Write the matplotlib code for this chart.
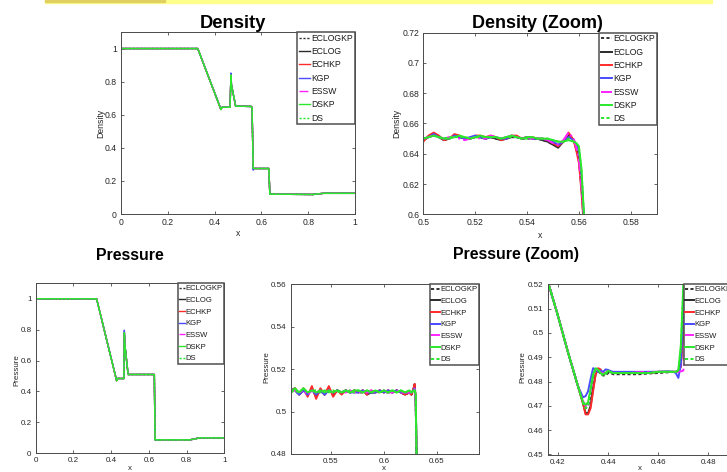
import matplotlib
matplotlib.use('Agg')
import matplotlib.pyplot as plt
from matplotlib.patches import Rectangle
from matplotlib.ticker import FuncFormatter

# ---------------- data ----------------
series = ['ECLOGKP', 'ECLOG', 'ECHKP', 'KGP', 'ESSW', 'DSKP', 'DS']

# full density profile (all schemes overlap)
x_rho_full = [0.0, 0.328, 0.427, 0.432, 0.466, 0.470, 0.472, 0.490, 0.556, 0.560,
              0.565, 0.567, 0.632, 0.636, 0.820, 0.865, 1.0]
rho_full = [1.0, 1.0, 0.632, 0.645, 0.645, 0.840, 0.780, 0.652, 0.650, 0.645,
            0.275, 0.275, 0.275, 0.120, 0.118, 0.125, 0.125]
rho_full_kgp = [1.0, 1.0, 0.635, 0.645, 0.645, 0.852, 0.780, 0.652, 0.650, 0.645,
                0.265, 0.275, 0.275, 0.120, 0.118, 0.125, 0.125]

# full pressure profile
x_p_full = [0.0, 0.323, 0.429, 0.434, 0.468, 0.470, 0.473, 0.490, 0.629, 0.633,
            0.818, 0.870, 1.0]
p_full = [1.0, 1.0, 0.470, 0.484, 0.484, 0.780, 0.700, 0.510, 0.510, 0.087,
          0.087, 0.100, 0.100]
p_full_kgp = [1.0, 1.0, 0.474, 0.484, 0.484, 0.797, 0.700, 0.510, 0.510, 0.087,
              0.087, 0.100, 0.100]

# density zoom
x_dz = [0.500, 0.502, 0.504, 0.506, 0.508, 0.510, 0.512, 0.514, 0.516, 0.518,
        0.520, 0.522, 0.524, 0.526, 0.528, 0.530, 0.532, 0.534, 0.536, 0.538,
        0.540, 0.542, 0.544, 0.546, 0.548, 0.550, 0.552, 0.554, 0.556, 0.558,
        0.559, 0.560, 0.561, 0.562]
dz_ECLOGKP = [0.649, 0.651, 0.652, 0.651, 0.649, 0.650, 0.652, 0.651, 0.650, 0.650,
              0.651, 0.651, 0.650, 0.651, 0.650, 0.650, 0.650, 0.651, 0.651, 0.650,
              0.650, 0.650, 0.650, 0.649, 0.648, 0.646, 0.645, 0.648, 0.652, 0.649,
              0.644, 0.637, 0.620, 0.595]
dz_ECLOG = [0.649, 0.651, 0.653, 0.651, 0.649, 0.650, 0.652, 0.651, 0.650, 0.650,
            0.651, 0.651, 0.650, 0.651, 0.650, 0.649, 0.650, 0.651, 0.651, 0.650,
            0.651, 0.650, 0.650, 0.649, 0.648, 0.646, 0.644, 0.648, 0.653, 0.649,
            0.643, 0.636, 0.617, 0.592]
dz_ECHKP = [0.648, 0.652, 0.654, 0.652, 0.649, 0.650, 0.653, 0.652, 0.650, 0.650,
            0.652, 0.652, 0.651, 0.652, 0.651, 0.649, 0.650, 0.652, 0.652, 0.650,
            0.651, 0.651, 0.650, 0.650, 0.649, 0.647, 0.645, 0.648, 0.654, 0.649,
            0.642, 0.634, 0.615, 0.590]
dz_KGP = [0.650, 0.651, 0.653, 0.651, 0.650, 0.650, 0.652, 0.651, 0.650, 0.651,
          0.652, 0.651, 0.650, 0.651, 0.651, 0.650, 0.650, 0.652, 0.651, 0.650,
          0.651, 0.650, 0.650, 0.650, 0.649, 0.648, 0.646, 0.648, 0.651, 0.649,
          0.646, 0.642, 0.625, 0.596]
dz_ESSW = [0.650, 0.651, 0.652, 0.651, 0.650, 0.651, 0.651, 0.650, 0.649, 0.650,
           0.651, 0.650, 0.650, 0.652, 0.651, 0.650, 0.651, 0.652, 0.651, 0.650,
           0.651, 0.650, 0.650, 0.650, 0.649, 0.647, 0.646, 0.649, 0.654, 0.650,
           0.644, 0.636, 0.618, 0.596]
dz_DSKP = [0.650, 0.651, 0.652, 0.651, 0.650, 0.650, 0.651, 0.652, 0.651, 0.650,
           0.651, 0.652, 0.651, 0.651, 0.651, 0.650, 0.651, 0.652, 0.651, 0.650,
           0.651, 0.651, 0.650, 0.650, 0.650, 0.649, 0.648, 0.648, 0.649, 0.648,
           0.647, 0.645, 0.630, 0.598]
dz_DS = [0.650, 0.651, 0.652, 0.651, 0.650, 0.651, 0.651, 0.651, 0.651, 0.650,
         0.651, 0.651, 0.651, 0.651, 0.651, 0.650, 0.651, 0.651, 0.651, 0.650,
         0.650, 0.651, 0.650, 0.650, 0.650, 0.649, 0.648, 0.648, 0.650, 0.648,
         0.647, 0.644, 0.628, 0.598]

# pressure zoom (plateau)
x_pz = [0.512, 0.516, 0.520, 0.524, 0.528, 0.532, 0.536, 0.540, 0.544, 0.548,
        0.552, 0.556, 0.560, 0.564, 0.568, 0.572, 0.576, 0.580, 0.584, 0.588,
        0.592, 0.596, 0.600, 0.604, 0.608, 0.612, 0.616, 0.620, 0.624,
        0.626, 0.628, 0.629, 0.630, 0.631]
pz_ECLOGKP = [0.510, 0.510, 0.508, 0.510, 0.508, 0.511, 0.508, 0.510, 0.508, 0.510,
              0.508, 0.510, 0.509, 0.510, 0.509, 0.510, 0.509, 0.509, 0.509, 0.509,
              0.509, 0.510, 0.509, 0.509, 0.509, 0.510, 0.509, 0.508, 0.509,
              0.508, 0.510, 0.512, 0.505, 0.470]
pz_ECLOG = [0.510, 0.511, 0.508, 0.510, 0.508, 0.511, 0.507, 0.510, 0.508, 0.511,
            0.508, 0.510, 0.509, 0.510, 0.509, 0.510, 0.509, 0.510, 0.508, 0.509,
            0.509, 0.510, 0.509, 0.510, 0.509, 0.510, 0.509, 0.508, 0.509,
            0.508, 0.511, 0.513, 0.505, 0.470]
pz_ECHKP = [0.509, 0.511, 0.508, 0.511, 0.507, 0.512, 0.506, 0.511, 0.508, 0.512,
            0.507, 0.510, 0.508, 0.510, 0.509, 0.510, 0.509, 0.510, 0.508, 0.510,
            0.509, 0.510, 0.509, 0.510, 0.509, 0.510, 0.509, 0.508, 0.509,
            0.508, 0.511, 0.513, 0.505, 0.470]
pz_KGP = [0.510, 0.510, 0.508, 0.510, 0.508, 0.510, 0.508, 0.510, 0.508, 0.510,
          0.509, 0.510, 0.509, 0.510, 0.509, 0.509, 0.509, 0.510, 0.509, 0.509,
          0.509, 0.510, 0.509, 0.510, 0.509, 0.510, 0.509, 0.509, 0.509,
          0.509, 0.510, 0.511, 0.505, 0.470]
pz_ESSW = [0.510, 0.510, 0.509, 0.510, 0.508, 0.510, 0.509, 0.510, 0.509, 0.510,
           0.509, 0.510, 0.509, 0.509, 0.510, 0.509, 0.509, 0.510, 0.509, 0.510,
           0.509, 0.509, 0.510, 0.509, 0.509, 0.510, 0.509, 0.509, 0.509,
           0.509, 0.510, 0.511, 0.505, 0.470]
pz_DSKP = [0.509, 0.511, 0.509, 0.511, 0.509, 0.510, 0.509, 0.510, 0.509, 0.510,
           0.509, 0.510, 0.509, 0.510, 0.509, 0.510, 0.510, 0.509, 0.510, 0.509,
           0.510, 0.509, 0.510, 0.509, 0.510, 0.509, 0.510, 0.509, 0.510,
           0.509, 0.510, 0.510, 0.508, 0.470]
pz_DS = [0.509, 0.510, 0.509, 0.511, 0.509, 0.510, 0.510, 0.509, 0.510, 0.509,
         0.510, 0.509, 0.510, 0.509, 0.510, 0.509, 0.510, 0.509, 0.510, 0.509,
         0.510, 0.509, 0.510, 0.509, 0.510, 0.509, 0.510, 0.509, 0.510,
         0.509, 0.510, 0.510, 0.507, 0.470]

# pressure zoom (rarefaction tail / contact)
x_pr = [0.416, 0.420, 0.424, 0.428, 0.430, 0.431, 0.432, 0.433, 0.434, 0.435,
        0.436, 0.437, 0.438, 0.439, 0.440, 0.441, 0.442, 0.444, 0.448, 0.452,
        0.456, 0.460, 0.464, 0.466, 0.467, 0.468, 0.469, 0.470, 0.471, 0.472]
pr_ECLOGKP = [0.521, 0.507, 0.492, 0.478, 0.4715, 0.469, 0.470, 0.474, 0.480, 0.4845,
              0.4845, 0.483, 0.4825, 0.4825, 0.4835, 0.4835, 0.483, 0.483, 0.483, 0.483,
              0.4833, 0.4835, 0.4838, 0.484, 0.484, 0.4845, 0.490, 0.510, 0.525, 0.540]
pr_ECLOG = [0.521, 0.507, 0.492, 0.478, 0.471, 0.467, 0.467, 0.470, 0.477, 0.483,
            0.485, 0.4845, 0.483, 0.4835, 0.484, 0.484, 0.4835, 0.4835, 0.4835, 0.4835,
            0.4835, 0.484, 0.484, 0.484, 0.484, 0.484, 0.487, 0.505, 0.525, 0.540]
pr_ECHKP = [0.521, 0.507, 0.492, 0.478, 0.471, 0.4665, 0.4665, 0.469, 0.476, 0.483,
            0.4855, 0.485, 0.483, 0.4835, 0.4845, 0.484, 0.4835, 0.4835, 0.4835, 0.4835,
            0.4835, 0.484, 0.484, 0.484, 0.484, 0.4842, 0.486, 0.500, 0.525, 0.540]
pr_KGP = [0.521, 0.507, 0.492, 0.478, 0.4735, 0.474, 0.476, 0.481, 0.4855, 0.485,
          0.484, 0.4845, 0.484, 0.485, 0.4848, 0.4843, 0.484, 0.484, 0.484, 0.484,
          0.484, 0.484, 0.4842, 0.484, 0.4835, 0.4815, 0.487, 0.510, 0.525, 0.540]
pr_ESSW = [0.521, 0.507, 0.492, 0.478, 0.472, 0.470, 0.471, 0.476, 0.482, 0.485,
           0.4848, 0.4838, 0.4835, 0.484, 0.4842, 0.4838, 0.4835, 0.4835, 0.4835, 0.4838,
           0.484, 0.484, 0.484, 0.484, 0.484, 0.484, 0.4842, 0.4845, 0.500, 0.530]
pr_DSKP = [0.521, 0.507, 0.492, 0.478, 0.4715, 0.4705, 0.4715, 0.477, 0.483, 0.4855,
           0.4848, 0.4835, 0.483, 0.4835, 0.4845, 0.4838, 0.4835, 0.4835, 0.4835, 0.4835,
           0.4835, 0.484, 0.484, 0.484, 0.484, 0.4845, 0.495, 0.520, 0.530, 0.540]
pr_DS = [0.521, 0.507, 0.492, 0.478, 0.471, 0.469, 0.4705, 0.476, 0.482, 0.485,
         0.4848, 0.4835, 0.4825, 0.483, 0.4842, 0.4838, 0.4835, 0.4835, 0.4835, 0.4835,
         0.4835, 0.484, 0.484, 0.484, 0.484, 0.4845, 0.493, 0.518, 0.530, 0.540]

dz_data = [dz_ECLOGKP, dz_ECLOG, dz_ECHKP, dz_KGP, dz_ESSW, dz_DSKP, dz_DS]
pz_data = [pz_ECLOGKP, pz_ECLOG, pz_ECHKP, pz_KGP, pz_ESSW, pz_DSKP, pz_DS]
pr_data = [pr_ECLOGKP, pr_ECLOG, pr_ECHKP, pr_KGP, pr_ESSW, pr_DSKP, pr_DS]

# tick values
ticks_full = [0, 0.2, 0.4, 0.6, 0.8, 1]
xticks_dz = [0.5, 0.52, 0.54, 0.56, 0.58]
yticks_dz = [0.6, 0.62, 0.64, 0.66, 0.68, 0.7, 0.72]
xticks_pz = [0.55, 0.6, 0.65]
yticks_pz = [0.48, 0.5, 0.52, 0.54, 0.56]
xticks_pr = [0.42, 0.44, 0.46, 0.48]
yticks_pr = [0.45, 0.46, 0.47, 0.48, 0.49, 0.5, 0.51, 0.52]

# ---------------- styling ----------------
styles = {
    'ECLOGKP': dict(color='#333333', ls=(0, (1.6, 1.2))),
    'ECLOG':   dict(color='#2a2a2a', ls='-'),
    'ECHKP':   dict(color='#ff2a2a', ls='-'),
    'KGP':     dict(color='#4a4aff', ls='-'),
    'ESSW':    dict(color='#ff22ff', ls='-.'),
    'DSKP':    dict(color='#2ae82a', ls='-'),
    'DS':      dict(color='#2ae82a', ls=(0, (1.6, 1.2))),
}

W, H = 727, 472
fig = plt.figure(figsize=(W / 100, H / 100), dpi=100)
fig.patch.set_facecolor('white')

TXT = '#262626'
SANS = ['Liberation Sans', 'DejaVu Sans']
fmt = FuncFormatter(lambda v, p: f'{v:g}')


def add_ax(l, t, r, b):
    return fig.add_axes([l / W, 1 - b / H, (r - l) / W, (b - t) / H])


def style_ax(ax, box, xlim, ylim, xt, yt, ylab, ylab_px, xlab_px, fs, lfs,
             hlen, lspace):
    l, t, r, b = box
    ax.set_xlim(*xlim)
    ax.set_ylim(*ylim)
    ax.set_xticks(xt)
    ax.set_yticks(yt)
    ax.xaxis.set_major_formatter(fmt)
    ax.yaxis.set_major_formatter(fmt)
    ax.tick_params(direction='in', length=2.5, width=0.5, top=True, right=True,
                   labelsize=fs, colors=TXT, pad=3)
    for lab in ax.get_xticklabels() + ax.get_yticklabels():
        lab.set_family(SANS)
    for s in ax.spines.values():
        s.set_color('#4a4a4a')
        s.set_linewidth(0.7)
    ax.set_ylabel(ylab, fontsize=fs, color=TXT, family=SANS, va='center')
    ax.yaxis.set_label_coords((ylab_px[0] - l) / (r - l), (b - ylab_px[1]) / (b - t))
    ax.set_xlabel('x', fontsize=fs, color=TXT, family=SANS, va='center')
    ax.xaxis.set_label_coords((xlab_px[0] - l) / (r - l), (b - xlab_px[1]) / (b - t))
    leg = ax.legend(loc='upper right', borderaxespad=0, frameon=True,
                    fancybox=False, edgecolor='#505050', framealpha=1,
                    handlelength=hlen, handletextpad=0.15, borderpad=0.2,
                    labelspacing=lspace, prop={'family': SANS, 'size': lfs})
    leg.get_frame().set_linewidth(1.1)
    for tx in leg.get_texts():
        tx.set_color('#1a1a1a')


# ---- Density (full)
boxA = (121, 32, 355, 214)
axA = add_ax(*boxA)
for name in series:
    y = rho_full_kgp if name == 'KGP' else rho_full
    axA.plot(x_rho_full, y, lw=1.0, label=name, **styles[name])
style_ax(axA, boxA, (0, 1), (0, 1.1), ticks_full, ticks_full, 'Density',
         (101, 123), (238, 234), 6.2, 6.2, 1.3, 0.5)

# ---- Density (Zoom)
boxB = (423.3, 32.7, 656.7, 214.3)
axB = add_ax(*boxB)
for name, y in zip(series, dz_data):
    axB.plot(x_dz, y, lw=1.4, label=name, **styles[name])
style_ax(axB, boxB, (0.5, 0.59), (0.6, 0.72), xticks_dz, yticks_dz, 'Density',
         (397, 123), (540, 235), 6.2, 6.2, 1.3, 0.5)

# ---- Pressure (full)
boxC = (35.7, 283.3, 224.3, 453.3)
axC = add_ax(*boxC)
for name in series:
    y = p_full_kgp if name == 'KGP' else p_full
    axC.plot(x_p_full, y, lw=1.0, label=name, **styles[name])
style_ax(axC, boxC, (0, 1), (0, 1.1), ticks_full, ticks_full, 'Pressure',
         (17, 370), (130, 469), 5.8, 5.5, 0.7, 0.57)

# ---- Pressure (Zoom) plateau
boxD = (290.7, 284.3, 479.3, 454)
axD = add_ax(*boxD)
for name, y in zip(series, pz_data):
    axD.plot(x_pz, y, lw=1.4, label=name, **styles[name])
style_ax(axD, boxD, (0.512, 0.69), (0.48, 0.56), xticks_pz, yticks_pz, 'Pressure',
         (267, 367), (384, 469), 5.8, 5.5, 1.1, 0.57)

# ---- Pressure (Zoom) contact region (cut off at right edge)
boxE = (547.7, 284.3, 733.5, 454.5)
axE = add_ax(*boxE)
for name, y in zip(series, pr_data):
    axE.plot(x_pr, y, lw=1.4, label=name, **styles[name])
style_ax(axE, boxE, (0.4159, 0.49), (0.45, 0.52), xticks_pr, yticks_pr, 'Pressure',
         (522.5, 367), (640, 469), 5.8, 5.5, 1.1, 0.57)

# ---- slide titles
def title(txt, cx, base, size):
    fig.text(cx / W, 1 - base / H, txt, ha='center', va='baseline',
             fontsize=size, fontweight='bold', family=SANS, color='black')

title('Density', 233, 28, 13.2)
title('Density (Zoom)', 537, 28, 13.0)
title('Pressure', 130, 259.5, 11.4)
title('Pressure (Zoom)', 516, 259.5, 11.4)

# yellow highlight strip at the very top (cropped slide element)
fig.patches.append(Rectangle((45 / W, 1 - 2.5 / H), (712 - 45) / W, 2.5 / H,
                             transform=fig.transFigure, color='#ffff8c', zorder=0))
fig.patches.append(Rectangle((45 / W, 1 - 1.5 / H), (165 - 45) / W, 1.5 / H,
                             transform=fig.transFigure, color='#e0d060', zorder=1))

fig.savefig('out.png', dpi=100)
